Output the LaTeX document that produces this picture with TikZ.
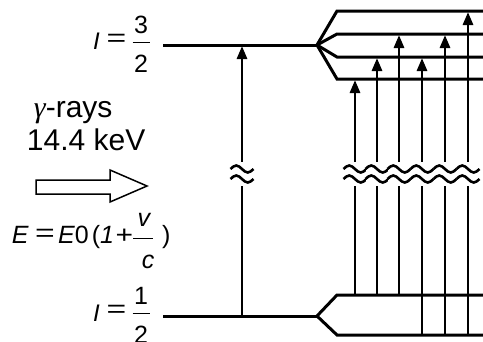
\documentclass[tikz,border=0pt]{standalone}
\usepackage{fontspec}
\setmainfont{Liberation Sans}
\newfontfamily\grk{Liberation Serif}
\usetikzlibrary{arrows.meta}
\newcommand{\wideeq}{\scalebox{1.35}[1]{=}}
\newcommand{\wideplus}{\scalebox{1.2}[1]{+}}
\begin{document}
\begin{tikzpicture}[x=1pt,y=-1pt,
  lvl/.style={line width=3pt, line join=miter},
  uparrow/.style={line width=2.8pt, -{Triangle[length=13pt,width=10pt]}},
  wavy/.style={line width=2.6pt},
  txt/.style={inner sep=0pt, outer sep=0pt},
  bigtxt/.style={txt, font=\fontsize{30}{34}\selectfont},
  midtxt/.style={txt, font=\fontsize{25}{30}\selectfont},
  itxt/.style={txt, font=\fontsize{24}{28}\selectfont\itshape},
  fracbar/.style={line width=0.9pt}]
\useasboundingbox (0,0) rectangle (483,341);
\clip (0,0) rectangle (483,341);

% ---- coordinates of levels ----
\coordinate (uL) at (163,45);
\coordinate (uS) at (317,45);
\coordinate (gL) at (163,316);
\coordinate (gS) at (317,316);
\foreach \n/\y in {1/11,2/34,3/57,4/79}{
  \coordinate (u\n) at (337,\y);
  \coordinate (u\n R) at (486,\y);
}
\coordinate (g1) at (337,295);
\coordinate (g1R) at (486,295);
\coordinate (g2) at (337,335);
\coordinate (g2R) at (486,335);

% ---- excited level I=3/2 ----
\draw[lvl] (uL) -- (uS);
\foreach \n in {1,2,3,4}{
  \draw[lvl] (uS) -- (u\n) -- (u\n R);
}
% ---- ground level I=1/2 ----
\draw[lvl] (gL) -- (gS);
\draw[lvl] (gS) -- (g1) -- (g1R);
\draw[lvl] (gS) -- (g2) -- (g2R);

% ---- main transition ----
\coordinate (m0) at (242,316);
\coordinate (m1) at (242,46);
\draw[uparrow] (m0) -- (m1);

% ---- six hyperfine transitions ----
\foreach \i/\x/\ys/\ye in {1/355/295/80, 2/377/295/58, 3/399/295/35,
                           4/422/335/58, 5/445/335/35, 6/468/335/12}{
  \coordinate (s\i) at (\x,\ys);
  \coordinate (t\i) at (\x,\ye);
  \draw[uparrow] (s\i) -- (t\i);
}

% ---- break marks ----
\foreach \x in {242,355,377,399,422,445,468}{
  \fill[white] (\x-11.5,162) rectangle (\x+11.5,186);
  \foreach \yy in {169,179}{
    \draw[wavy] (\x-11.5,\yy) sin (\x-5.75,\yy-3.5) cos (\x,\yy)
                sin (\x+5.75,\yy+3.5) cos (\x+11.5,\yy);
  }
}

% ---- labels I = 3/2 ----
\node[itxt, anchor=base west] (Iu) at (93,49) {I};
\node[midtxt, anchor=base] (equ) at (116.5,46) {\wideeq};
\node[midtxt, anchor=base] (nu) at (141,33) {3};
\node[midtxt, anchor=base] (du) at (141,72) {2};
\draw[fracbar] (132.5,42) -- (150,42);

% ---- labels I = 1/2 ----
\node[itxt, anchor=base west] (Ig) at (93,321) {I};
\node[midtxt, anchor=base] (eqg) at (116.5,317) {\wideeq};
\node[midtxt, anchor=base] (ng) at (141,304) {1};
\node[midtxt, anchor=base] (dg) at (141,343) {2};
\draw[fracbar] (132.5,313) -- (150,313);

% ---- gamma rays ----
\node[bigtxt, anchor=base west] (gam) at (34,117) {{\grk\itshape γ}-rays};
\node[bigtxt, anchor=base west] (kev) at (27,150) {14.4 keV};
\draw[line width=1.5pt, line join=miter]
  (36,180) -- (110,180) -- (110,170) -- (147,186) -- (110,202)
  -- (110,194) -- (36,194) -- cycle;

% ---- Doppler formula ----
\node[midtxt, anchor=base west] (eE) at (12,243) {\textit{E}};
\node[midtxt, anchor=base] (eeq) at (45,241) {\wideeq};
\node[midtxt, anchor=base west] (eE0) at (58,243) {\textit{E}0};
\node[midtxt, anchor=base west] (elp) at (92,243) {(};
\node[midtxt, anchor=base west] (e1) at (100,243) {\textit{1}};
\node[midtxt, anchor=base] (epl) at (124.5,243) {\wideplus};
\node[midtxt, anchor=base] (fv) at (144.5,226) {\textit{v}};
\node[midtxt, anchor=base] (fc) at (148,268) {\textit{c}};
\draw[fracbar] (133,238) -- (153,238);
\node[midtxt, anchor=base west] (rp) at (162,243) {)};
\end{tikzpicture}
\end{document}
